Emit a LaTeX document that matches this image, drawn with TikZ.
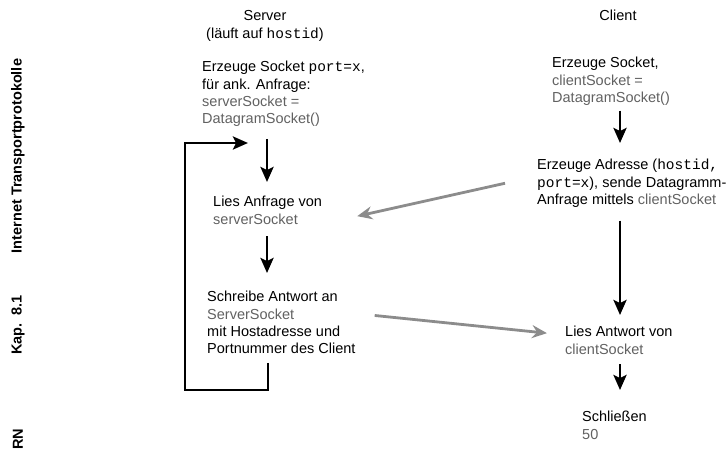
\documentclass[tikz,border=0pt]{standalone}
\usepackage{fontspec}
\setmainfont{Liberation Sans}
\setmonofont{Liberation Mono}
\usetikzlibrary{arrows.meta}
\definecolor{txtgray}{gray}{0.38}
\definecolor{arrgray}{gray}{0.55}
\newcommand{\gr}[1]{{\color{txtgray}#1}}

\begin{document}
\begin{tikzpicture}[x=1pt, y=-1pt,
  txt/.style={anchor=north west, inner sep=0pt, align=left, font=\fontsize{14.5}{17.3}\selectfont},
  head/.style={inner sep=0pt, align=center, font=\fontsize{14.5}{17.3}\selectfont},
  side/.style={rotate=90, inner sep=0pt, font=\fontsize{14.5}{16}\selectfont\bfseries},
  flow/.style={-{Stealth[length=15pt,width=13pt,inset=3pt]}, line width=2.8pt},
  msg/.style={-{Stealth[length=15pt,width=13pt,inset=5pt]}, line width=2.8pt, draw=arrgray}]
\useasboundingbox (0,0) rectangle (727,457);

% side margin
\node[side] (topic) at (18,156) {Internet Transportprotokolle};
\node[side] (kap) at (18,325) {Kap.\ \ 8.1};
\node[side] (rn) at (18,439) {RN};

% heads
\node[head] (srvhead) at (265,26) {Server\\(läuft auf \texttt{hostid})};
\node[head] (clhead) at (618,15) {Client};

% server side
\node[txt] (s1) at (202,61) {Erzeuge Socket \texttt{port=x},\\für ank. Anfrage:\\\gr{serverSocket =}\\\gr{DatagramSocket()}};
\node[txt] (s2) at (213,196) {Lies Anfrage von\\\gr{serverSocket}};
\node[txt] (s3) at (207,291) {Schreibe Antwort an\\\gr{ServerSocket}\\mit Hostadresse und\\Portnummer des Client};

% client side
\node[txt] (c1) at (552,57) {Erzeuge Socket,\\\gr{clientSocket =}\\\gr{DatagramSocket()}};
\node[txt] (c2) at (537,159) {Erzeuge Adresse (\texttt{hostid,}\\\texttt{port=x}), sende Datagramm-\\Anfrage mittels \gr{clientSocket}};
\node[txt] (c3) at (565,326) {Lies Antwort von\\\gr{clientSocket}};
\node[txt] (c4) at (582,411) {Schließen\\\gr{50}};

\coordinate (sx) at (267,0);
\coordinate (cx) at (620,0);
\coordinate (loopbot) at (268,390);
\coordinate (loopin) at (185,143);

\draw[flow, shorten <=12pt, shorten >=14pt] (s1.south -| sx) -- (s2.north -| sx);
\draw[flow, shorten <=12pt, shorten >=18pt] (s2.south -| sx) -- (s3.north -| sx);
\draw[flow, line join=miter] ([yshift=-9pt]s3.south -| loopbot) -- (loopbot) -| (loopin) -- ([xshift=-19pt]loopin -| sx);

\draw[flow, shorten <=5pt, shorten >=16pt] (c1.south -| cx) -- (c2.north -| cx);
\draw[flow, shorten <=13pt, shorten >=11pt] (c2.south -| cx) -- (c3.north -| cx);
\draw[flow, shorten <=10pt, shorten >=21pt] (c3.south -| cx) -- (c4.north -| cx);

\draw[msg] ([xshift=-32pt]c2.west) -- ([xshift=35pt,yshift=-6pt]s2.east);
\draw[msg] ([xshift=19pt,yshift=7pt]s3.east) -- ([xshift=-18pt,yshift=7pt]c3.west);
\end{tikzpicture}
\end{document}
